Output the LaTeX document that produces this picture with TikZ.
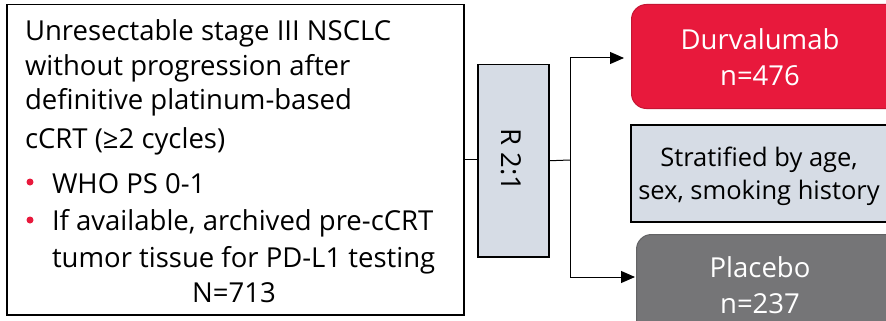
\documentclass[tikz,border=0pt]{standalone}
\usepackage{fontspec}
\setmainfont{Open Sans}
\usetikzlibrary{arrows.meta}
\definecolor{durred}{RGB}{232,25,60}
\definecolor{plgray}{RGB}{117,117,119}
\definecolor{boxblue}{RGB}{214,220,229}
\begin{document}
\begin{tikzpicture}[x=1pt,y=-1pt,
  txt/.style={font=\fontsize{27.5}{32}\selectfont, inner sep=0pt, outer sep=0pt},
  stxt/.style={txt, font=\fontsize{25.5}{30}\selectfont},
  wtxt/.style={txt, text=white},
  arr/.style={line width=1pt, -{Triangle[length=14pt,width=12pt]}},
  conn/.style={line width=1pt},
  dot/.style={circle, fill=durred, minimum size=7pt, inner sep=0pt}]
\useasboundingbox (0,0) rectangle (886,321);
\clip (0,0) rectangle (886,321);
\fill[white] (0,0) rectangle (886,321);
% eligibility box
\node[draw, line width=1.5pt, minimum width=457pt, minimum height=310pt, inner sep=0pt, anchor=north west] (elig) at (6,4) {};
\node[txt, anchor=base west] (l1) at (25,41) {Unresectable stage III NSCLC};
\node[txt, anchor=base west] (l2) at (25,75) {without progression after};
\node[txt, anchor=base west] (l3) at (25,110) {definitive platinum-based};
\node[txt, anchor=base west] (l4) at (25,148) {cCRT (\char"2265 2 cycles)};
\node[dot] (d1) at (30,182) {};
\node[txt, anchor=base west] (b1) at (52,193) {WHO PS 0-1};
\node[dot] (d2) at (30,220) {};
\node[txt, anchor=base west] (b2) at (52,230) {If available, archived pre-cCRT};
\node[txt, anchor=base west] (b3) at (52,267) {tumor tissue for PD-L1 testing};
\node[txt, anchor=base] (n1) at (234,302) {N=713};
% randomisation
\node[draw, fill=boxblue, line width=1.5pt, minimum width=71pt, minimum height=192pt, inner sep=0pt, anchor=north west] (rbox) at (477,64) {};
\node[txt, rotate=-90] (rtxt) at (511,160) {R 2:1};
% arms
\node[fill=durred, draw=durred!85!black, line width=1pt, rounded corners=15pt, minimum width=280pt, minimum height=104pt, inner sep=0pt, anchor=north west] (durv) at (631,4) {};
\node[wtxt, anchor=base] (dt1) at (760,50) {Durvalumab};
\node[wtxt, anchor=base] (dt2) at (760,85) {n=476};
\node[fill=boxblue, draw, line width=1.5pt, minimum width=280pt, minimum height=97pt, inner sep=0pt, anchor=north west] (strat) at (630,124) {};
\node[stxt, anchor=base] (st1) at (759,166) {Stratified by age,};
\node[stxt, anchor=base] (st2) at (759,199) {sex, smoking history};
\node[fill=plgray, draw=plgray!85!black, line width=1pt, rounded corners=15pt, minimum width=280pt, minimum height=110pt, inner sep=0pt, anchor=north west] (plac) at (636,234) {};
\node[wtxt, anchor=base] (pt1) at (760,277) {Placebo};
\node[wtxt, anchor=base] (pt2) at (760,313) {n=237};
% connectors
\coordinate (split) at (570,160);
\coordinate (dtip) at (624,58);
\coordinate (ptip) at (635,277);
\draw[conn] (elig.east) -- (elig.east -| rbox.west);
\draw[conn] (rbox.east) -- (split);
\draw[arr] (split) |- (dtip);
\draw[arr] (split) |- (ptip);
\end{tikzpicture}
\end{document}
